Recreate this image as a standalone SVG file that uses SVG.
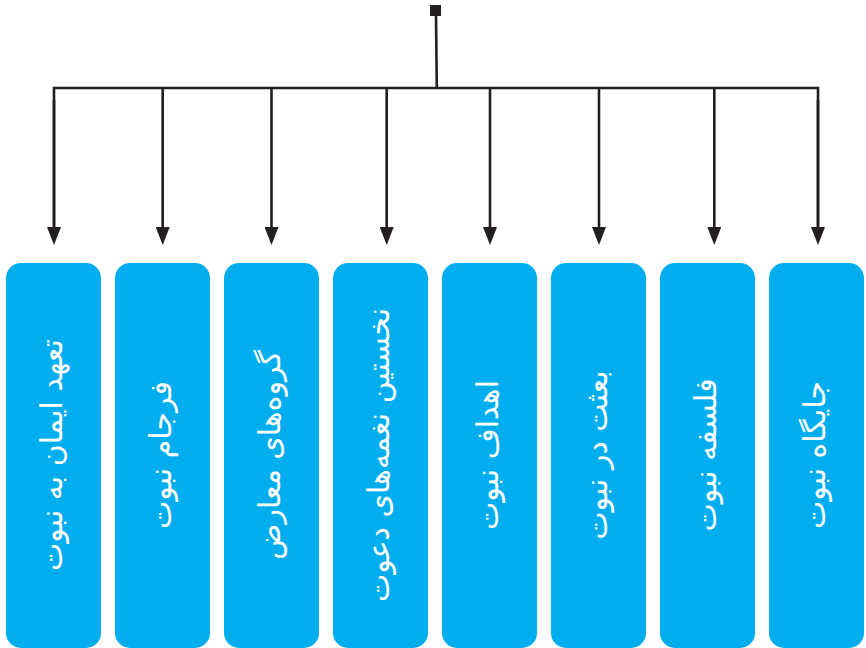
<svg xmlns="http://www.w3.org/2000/svg" width="866" height="648" viewBox="0 0 866 648">
  <style>
    .wire { fill: none; stroke: #231f20; stroke-width: 2.6; }
    .arrow { fill: none; stroke: #231f20; stroke-width: 2.6; marker-end: url(#head); }
    .box { fill: #00aeef; }
    .label { fill: #ffffff; font-family: "DejaVu Sans", sans-serif; font-size: 30px; text-anchor: middle; }
  </style>
  <defs>
    <marker id="head" viewBox="0 0 18 14" refX="8" refY="7" markerWidth="18" markerHeight="14" markerUnits="userSpaceOnUse" orient="auto">
      <path d="M0,0 L18,7 L0,14 z" fill="#231f20"/>
    </marker>
  </defs>

  <g id="connectors">
    <rect x="430" y="5" width="11" height="11" fill="#231f20"/>
    <path class="wire" d="M436,16 L436.8,88"/>
    <path class="wire" d="M54,236 L54,88 L818,88 L818,236"/>
    <path class="arrow" d="M54,100 L54,235"/>
    <path class="arrow" d="M162.7,88 L162.7,235"/>
    <path class="arrow" d="M271.5,88 L271.5,235"/>
    <path class="arrow" d="M386.7,88 L386.7,235"/>
    <path class="arrow" d="M490,88 L490,235"/>
    <path class="arrow" d="M599,88 L599,235"/>
    <path class="arrow" d="M714.3,88 L714.3,235"/>
    <path class="arrow" d="M818,100 L818,235"/>
  </g>

  <g id="node1">
    <rect class="box" x="6" y="263" width="95" height="385" rx="15"/>
    <text class="label" transform="translate(53.5,455) rotate(-90)" x="0" y="8">تعهد ایمان به نبوت</text>
  </g>
  <g id="node2">
    <rect class="box" x="115" y="263" width="95" height="385" rx="15"/>
    <text class="label" transform="translate(162.5,455) rotate(-90)" x="0" y="8">فرجام نبوت</text>
  </g>
  <g id="node3">
    <rect class="box" x="224" y="263" width="95" height="385" rx="15"/>
    <text class="label" transform="translate(271.5,455) rotate(-90)" x="0" y="8">گروه‌های معارض</text>
  </g>
  <g id="node4">
    <rect class="box" x="333" y="263" width="95" height="385" rx="15"/>
    <text class="label" transform="translate(380.5,455) rotate(-90)" x="0" y="8">نخستین نغمه‌های دعوت</text>
  </g>
  <g id="node5">
    <rect class="box" x="442" y="263" width="95" height="385" rx="15"/>
    <text class="label" transform="translate(489.5,455) rotate(-90)" x="0" y="8">اهداف نبوت</text>
  </g>
  <g id="node6">
    <rect class="box" x="551" y="263" width="95" height="385" rx="15"/>
    <text class="label" transform="translate(598.5,455) rotate(-90)" x="0" y="8">بعثت در نبوت</text>
  </g>
  <g id="node7">
    <rect class="box" x="660" y="263" width="95" height="385" rx="15"/>
    <text class="label" transform="translate(707.5,455) rotate(-90)" x="0" y="8">فلسفه نبوت</text>
  </g>
  <g id="node8">
    <rect class="box" x="769" y="263" width="95" height="385" rx="15"/>
    <text class="label" transform="translate(816.5,455) rotate(-90)" x="0" y="8">جایگاه نبوت</text>
  </g>
</svg>
